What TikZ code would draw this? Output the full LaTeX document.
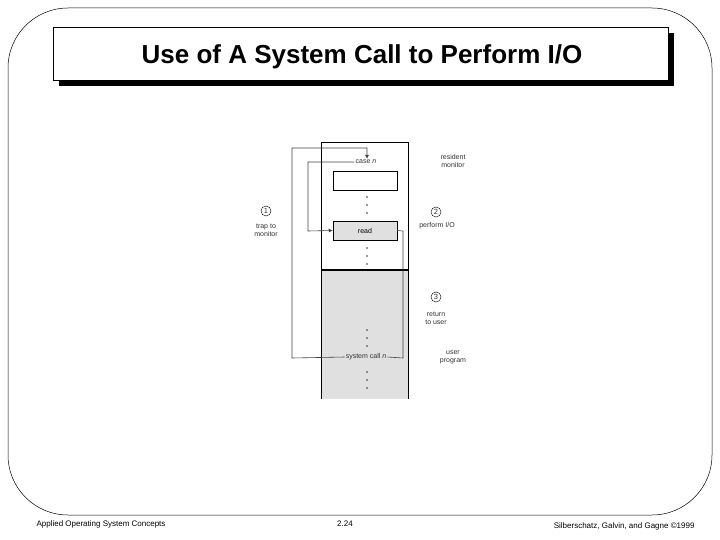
\documentclass[tikz,border=0pt]{standalone}
\usepackage{fontspec}
\setmainfont{Liberation Sans}
\usetikzlibrary{arrows.meta}
\begin{document}
\begin{tikzpicture}[x=1pt,y=-1pt,
  lbl/.style={font=\fontsize{7}{8}\selectfont,align=center,inner sep=1pt,text=black!80},
  circ/.style={lbl,draw,circle,inner sep=1.2pt,minimum size=10pt,font=\fontsize{7.5}{8}\selectfont},
  ln/.style={draw=black!75,line width=0.6pt},
  arr/.style={ln,-{Latex[length=4pt,width=4pt]}},
  dots/.style={fill=black!80}]
\useasboundingbox (0,0) rectangle (720,540);
% outer frame
\draw[line width=0.5pt,rounded corners=60pt] (8,8) rectangle (712,515);
% title
\fill[black] (59,33) rectangle (674,86);
\draw[fill=white,line width=0.6pt] (53,27) rectangle (668,80);
\node[font=\bfseries\fontsize{26}{29}\selectfont] (title) at (362,57) {Use of A System Call to Perform I/O};
% memory column
\fill[black!12] (321,270) rectangle (408,399);
\draw[line width=0.5pt] (321,399) -- (321,142) -- (408,142) -- (408,399);
\draw[line width=1.2pt] (321,270) -- (408,270);
\node[draw,line width=0.5pt,fill=white,minimum width=64pt,minimum height=19pt,inner sep=0pt] (empty) at (365,180.5) {};
\node[draw,line width=0.5pt,fill=black!12,minimum width=64pt,minimum height=19pt,inner sep=0pt,font=\fontsize{7}{8}\selectfont] (read) at (365,230.5) {read};
\node[lbl] (case) at (366,162) {case \textit{n}};
\node[lbl] (sys) at (366,357) {system call \textit{n}};
\foreach \y in {197,205,213,248,256,264,330,338,346,372,380,388}
  \fill[dots] (367,\y) circle (0.9pt);
% loops
\coordinate (c1) at (292,358);
\coordinate (c2) at (292,148);
\coordinate (c3) at (367,148);
\draw[arr] (sys.west) -- (c1) -- (c2) -- (c3) -- (case.north -| c3);
\coordinate (d1) at (308,162);
\coordinate (d2) at (308,231);
\draw[arr] (case.west) -- (d1) -- (d2) -- (read.west);
\coordinate (e1) at (403,231);
\coordinate (e2) at (403,358);
\draw[ln] (read.east) -- (e1) -- (e2) -- (sys.east);
% labels
\node[circ] (n1) at (266,211) {1};
\node[lbl] (t1) at (266,230) {trap to\\monitor};
\node[circ] (n2) at (436,212) {2};
\node[lbl] (t2) at (437,226) {perform I/O};
\node[circ] (n3) at (436,297) {3};
\node[lbl] (t3) at (436,318) {return\\to user};
\node[lbl] (rm) at (453,161) {resident\\monitor};
\node[lbl] (up) at (453,357) {user\\program};
% footer
\node[font=\fontsize{8}{9}\selectfont,anchor=west] (f1) at (33,524) {Applied Operating System Concepts};
\node[font=\fontsize{8}{9}\selectfont] (f2) at (345,524) {2.24};
\node[font=\fontsize{8}{9}\selectfont,anchor=east] (f3) at (698,526) {Silberschatz, Galvin, and Gagne \textcopyright 1999};
\end{tikzpicture}
\end{document}
